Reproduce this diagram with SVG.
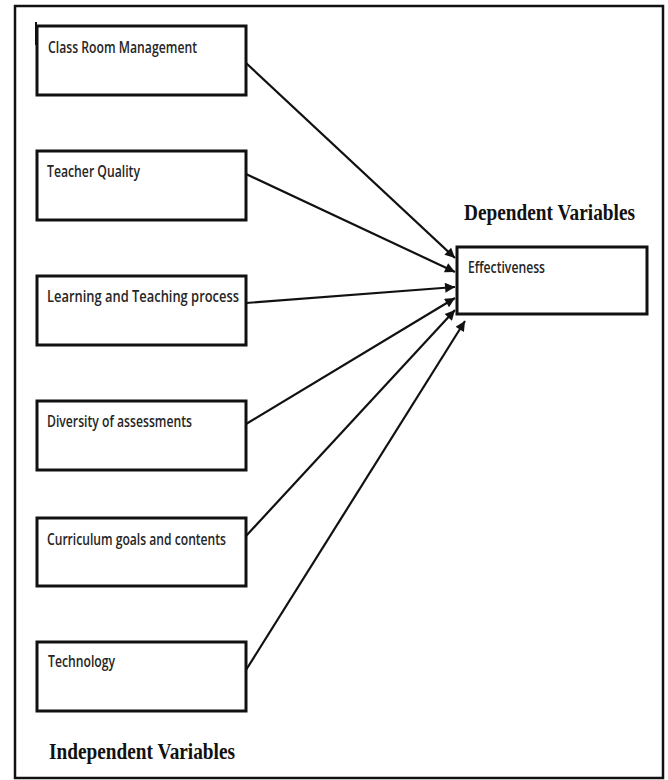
<svg xmlns="http://www.w3.org/2000/svg" width="668" height="780" viewBox="0 0 668 780">
<style>
.box{fill:#fff;stroke:#111;stroke-width:3}
.lbl{font-family:"Open Sans","Liberation Sans",sans-serif;font-size:15.5px;font-weight:600;fill:#262626}
.hdr{font-family:"Liberation Serif","Times New Roman",serif;font-size:19px;font-weight:bold;fill:#111}
.conn{stroke:#111;stroke-width:2.2;fill:none;marker-end:url(#ah)}
</style>
<defs>
<marker id="ah" viewBox="0 0 10 10" refX="10" refY="5" markerWidth="5.5" markerHeight="4.5" orient="auto" markerUnits="strokeWidth">
<path d="M0,0 L10,5 L0,10 Z" fill="#111"/>
</marker>
</defs>
<rect x="0" y="0" width="668" height="780" fill="#fff"/>
<rect x="15" y="6" width="648" height="772" fill="none" stroke="#111" stroke-width="2.5"/>
<g id="connectors">
<line class="conn" x1="246" y1="63" x2="455" y2="258"/>
<line class="conn" x1="246" y1="174" x2="455" y2="272"/>
<line class="conn" x1="246" y1="303" x2="455" y2="287"/>
<line class="conn" x1="246" y1="424" x2="455" y2="298"/>
<line class="conn" x1="246" y1="536" x2="455" y2="310"/>
<line class="conn" x1="246" y1="670" x2="465" y2="321"/>
</g>
<g id="n1">
<rect class="box" x="37" y="26" width="209" height="69"/>
<line x1="36" y1="22" x2="36" y2="45" stroke="#111" stroke-width="2"/>
<text class="lbl" x="48" y="53" textLength="149" lengthAdjust="spacingAndGlyphs">Class Room Management</text>
</g>
<g id="n2">
<rect class="box" x="37" y="151" width="209" height="69"/>
<text class="lbl" x="47" y="177" textLength="93" lengthAdjust="spacingAndGlyphs">Teacher Quality</text>
</g>
<g id="n3">
<rect class="box" x="37" y="276" width="209" height="69"/>
<text class="lbl" x="47" y="302" textLength="192" lengthAdjust="spacingAndGlyphs">Learning and Teaching process</text>
</g>
<g id="n4">
<rect class="box" x="37" y="401" width="209" height="69"/>
<text class="lbl" x="47" y="427" textLength="145" lengthAdjust="spacingAndGlyphs">Diversity of assessments</text>
</g>
<g id="n5">
<rect class="box" x="37" y="518" width="209" height="68"/>
<text class="lbl" x="47" y="545" textLength="179" lengthAdjust="spacingAndGlyphs">Curriculum goals and contents</text>
</g>
<g id="n6">
<rect class="box" x="37" y="642" width="209" height="69"/>
<text class="lbl" x="48" y="667" textLength="67" lengthAdjust="spacingAndGlyphs">Technology</text>
</g>
<g id="effectiveness">
<rect class="box" x="457" y="247" width="190" height="67"/>
<text class="lbl" x="468" y="273" textLength="77" lengthAdjust="spacingAndGlyphs">Effectiveness</text>
</g>
<g id="dependent-label">
<text class="hdr" transform="translate(464,220) scale(1,1.25)" x="0" y="0" textLength="171" lengthAdjust="spacingAndGlyphs">Dependent Variables</text>
</g>
<g id="independent-label">
<text class="hdr" transform="translate(49,759) scale(1,1.25)" x="0" y="0" textLength="186" lengthAdjust="spacingAndGlyphs">Independent Variables</text>
</g>
</svg>
